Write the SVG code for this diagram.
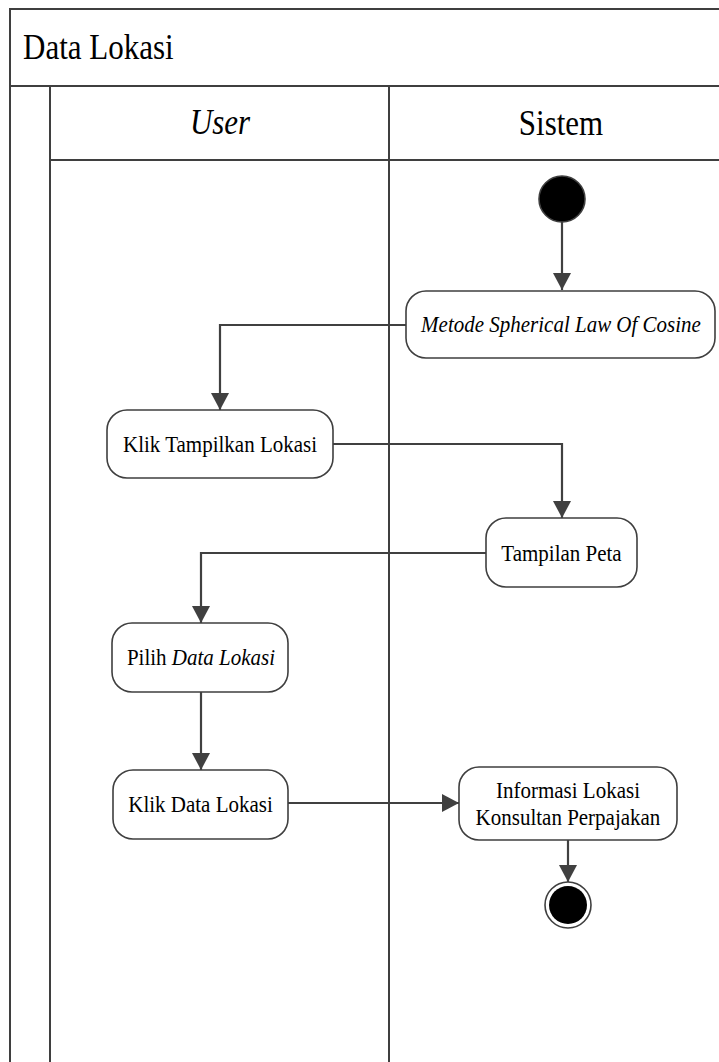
<svg xmlns="http://www.w3.org/2000/svg" width="719" height="1062" viewBox="0 0 719 1062">
  <style>
    .frame { fill: none; stroke: #3f3f3f; stroke-width: 2; }
    .node rect { fill: #ffffff; stroke: #3f3f3f; stroke-width: 1.6; }
    .label { font-family: "Liberation Serif", "Times New Roman", serif; fill: #000000; }
    .hdr { font-size: 31px; }
    .txt { font-size: 21px; }
    .it { font-style: italic; }
    .edge { fill: none; stroke: #404040; stroke-width: 2.2; marker-end: url(#arrow); }
  </style>
  <defs>
    <marker id="arrow" viewBox="0 0 17 18" refX="17" refY="9" markerWidth="17" markerHeight="18" orient="auto" markerUnits="userSpaceOnUse">
      <path d="M0,0 L17,9 L0,18 z" fill="#404040"/>
    </marker>
  </defs>

  <rect width="719" height="1062" fill="#ffffff"/>

  <!-- pool and swimlanes; labels are drawn slightly taller than wide -->
  <g id="pool">
    <rect class="frame" x="10" y="9" width="723" height="1070"/>
    <line class="frame" x1="10" y1="86" x2="733" y2="86"/>
    <line class="frame" x1="50" y1="86" x2="50" y2="1070"/>
    <line class="frame" x1="389" y1="86" x2="389" y2="1070"/>
    <line class="frame" x1="50" y1="160" x2="733" y2="160"/>
    <text class="label hdr" transform="translate(23,59) scale(1,1.13)">Data Lokasi</text>
    <text class="label hdr it" transform="translate(220,134) scale(1,1.13)" text-anchor="middle">User</text>
    <text class="label hdr" transform="translate(561,135) scale(1,1.13)" text-anchor="middle">Sistem</text>
  </g>

  <!-- connectors -->
  <g id="connectors">
    <path class="edge" d="M562,222 L562,290"/>
    <path class="edge" d="M406,325 L220,325 L220,410"/>
    <path class="edge" d="M333,444 L562,444 L562,518"/>
    <path class="edge" d="M486,553 L201,553 L201,623"/>
    <path class="edge" d="M201,692 L201,770"/>
    <path class="edge" d="M288,803 L459,803"/>
    <path class="edge" d="M568,840 L568,882"/>
  </g>

  <!-- nodes -->
  <g id="start">
    <circle cx="562" cy="199" r="23" fill="#000000" stroke="#3f3f3f" stroke-width="1.6"/>
  </g>

  <g id="metode" class="node">
    <rect x="406" y="291" width="309" height="67" rx="20" ry="20"/>
    <text class="label txt it" transform="translate(561,332) scale(1,1.13)" text-anchor="middle">Metode Spherical Law Of Cosine</text>
  </g>

  <g id="klik-tampilkan" class="node">
    <rect x="107" y="410" width="226" height="68" rx="20" ry="20"/>
    <text class="label txt" transform="translate(220,452) scale(1,1.13)" text-anchor="middle">Klik Tampilkan Lokasi</text>
  </g>

  <g id="tampilan-peta" class="node">
    <rect x="486" y="518" width="151" height="69" rx="20" ry="20"/>
    <text class="label txt" transform="translate(561.5,561) scale(1,1.13)" text-anchor="middle">Tampilan Peta</text>
  </g>

  <g id="pilih" class="node">
    <rect x="112" y="623" width="176" height="69" rx="20" ry="20"/>
    <text class="label txt" transform="translate(201,665) scale(1,1.13)" text-anchor="middle">Pilih <tspan class="it">Data Lokasi</tspan></text>
  </g>

  <g id="klik-data" class="node">
    <rect x="113" y="770" width="175" height="69" rx="20" ry="20"/>
    <text class="label txt" transform="translate(200.5,812) scale(1,1.13)" text-anchor="middle">Klik Data Lokasi</text>
  </g>

  <g id="informasi" class="node">
    <rect x="459" y="767" width="218" height="73" rx="20" ry="20"/>
    <text class="label txt" transform="translate(568,798) scale(1,1.13)" text-anchor="middle">Informasi Lokasi</text>
    <text class="label txt" transform="translate(568,825) scale(1,1.13)" text-anchor="middle">Konsultan Perpajakan</text>
  </g>

  <g id="end">
    <circle cx="568" cy="905" r="23" fill="#ffffff" stroke="#3f3f3f" stroke-width="1.6"/>
    <circle cx="568" cy="905" r="19" fill="#000000"/>
  </g>
</svg>
